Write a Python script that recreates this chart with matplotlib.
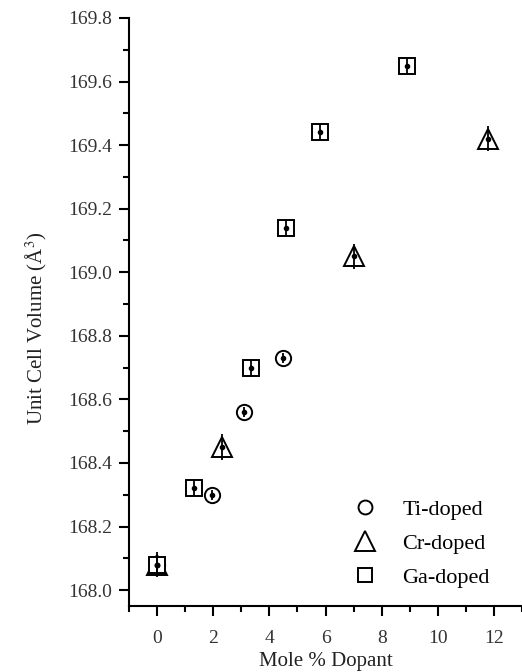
import matplotlib
matplotlib.use("Agg")
import matplotlib.pyplot as plt
from matplotlib.ticker import MultipleLocator, FormatStrFormatter
from matplotlib.lines import Line2D

plt.rcParams['font.family'] = ['Liberation Serif', 'DejaVu Serif']
plt.rcParams['mathtext.fontset'] = 'stix'

ti_x = [0.0, 1.95, 3.1, 4.5]
ti_y = [168.08, 168.30, 168.56, 168.73]
ti_err = [0.015, 0.015, 0.015, 0.015]

cr_x = [0.0, 2.3, 7.0, 11.8]
cr_y = [168.08, 168.45, 169.05, 169.42]
cr_err = [0.04, 0.04, 0.04, 0.04]

ga_x = [0.0, 1.3, 3.35, 4.6, 5.8, 8.9]
ga_y = [168.08, 168.32, 168.70, 169.14, 169.44, 169.65]
ga_err = [0.025, 0.025, 0.025, 0.025, 0.025, 0.025]

fig = plt.figure(figsize=(5.22, 6.72), dpi=100)
ax = fig.add_axes([129/522, 1-606/672, 1-129/522, (606-18)/672])

series = [(ti_x, ti_y, ti_err, 'o', 11), (cr_x, cr_y, cr_err, '^', 15), (ga_x, ga_y, ga_err, 's', 12)]
for xs, ys, es, m, s in series:
    ax.plot(xs, ys, ls='none', marker=m, ms=s, mfc='white', mec='black', mew=1.4, zorder=2)
    ax.errorbar(xs, ys, yerr=es, fmt='none', ecolor='black', elinewidth=1.3, capsize=0, zorder=3)
    ax.plot(xs, ys, ls='none', marker='o', ms=3, color='black', zorder=4)

ax.set_xlim(-1, 13)
ax.set_ylim(167.95, 169.8)
ax.xaxis.set_major_locator(MultipleLocator(2))
ax.xaxis.set_minor_locator(MultipleLocator(1))
ax.yaxis.set_major_locator(MultipleLocator(0.2))
ax.yaxis.set_minor_locator(MultipleLocator(0.1))
ax.yaxis.set_major_formatter(FormatStrFormatter('%.1f'))
ax.tick_params(which='major', direction='out', length=7, width=1.5, labelsize=14, colors='black')
ax.tick_params(which='minor', direction='out', length=4, width=1.5)
ax.tick_params(axis='x', which='major', pad=10)
ax.tick_params(axis='y', which='major', pad=5)
for s in ('top', 'right'):
    ax.spines[s].set_visible(False)
for s in ('left', 'bottom'):
    ax.spines[s].set_linewidth(1.5)
for lbl in ax.get_xticklabels() + ax.get_yticklabels():
    lbl.set_color('#333333')

ax.set_xlabel('Mole % Dopant', fontsize=15, color='#222222', labelpad=4)
ax.set_ylabel('Unit Cell Volume (Å$^3$)', fontsize=15, color='#222222')
ax.yaxis.set_label_coords((49 - 129) / 393, (606 - 328) / 588)

handles = [Line2D([], [], ls='none', marker=m, ms=s, mfc='white', mec='black', mew=1.4)
           for m, s in (('o', 10), ('^', 14), ('s', 10))]
fig.legend(handles, ['Ti-doped', 'Cr-doped', 'Ga-doped'], loc='upper left',
           bbox_to_anchor=(348/522, 1-499/672), frameon=False, fontsize=16,
           handlelength=1.5, handletextpad=0.95, labelspacing=0.61,
           borderpad=0, borderaxespad=0)

fig.savefig('out.png', dpi=100)
